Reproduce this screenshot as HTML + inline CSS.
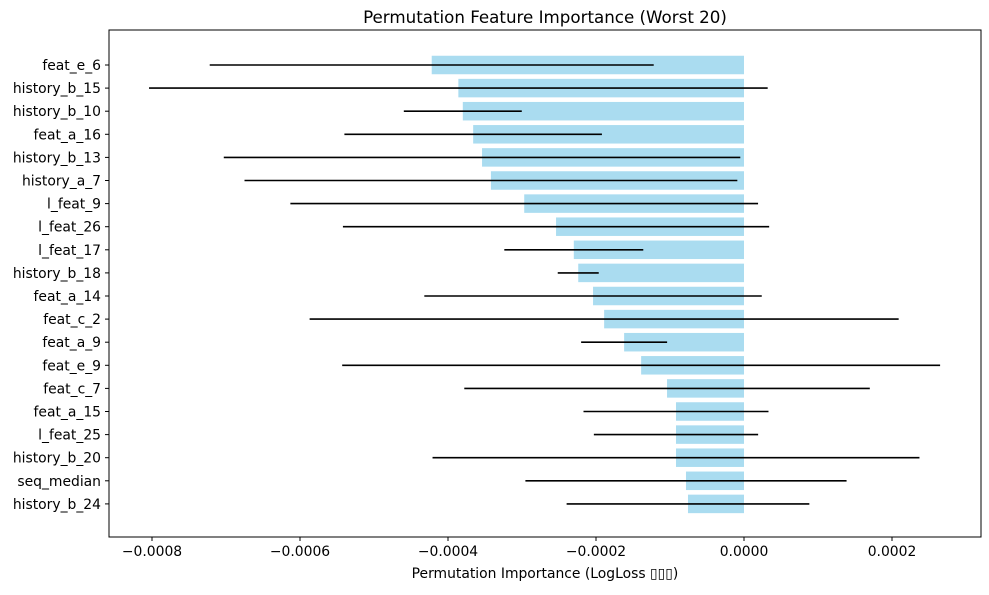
<!DOCTYPE html>
<html><head><meta charset="utf-8"><style>
body{margin:0;background:#fff}
svg text{font-family:"DejaVu Sans","Liberation Sans",sans-serif;fill:#000}
</style></head><body>
<svg id="chart" width="989" height="590" xmlns="http://www.w3.org/2000/svg"></svg>
<script>
const features=["feat_e_6","history_b_15","history_b_10","feat_a_16","history_b_13","history_a_7","l_feat_9","l_feat_26","l_feat_17","history_b_18","feat_a_14","feat_c_2","feat_a_9","feat_e_9","feat_c_7","feat_a_15","l_feat_25","history_b_20","seq_median","history_b_24"];
const importances=[-0.000422,-0.000386,-0.00038,-0.000366,-0.000354,-0.000342,-0.000297,-0.000254,-0.00023,-0.000224,-0.000204,-0.000189,-0.000162,-0.000139,-0.000104,-0.0000919,-0.0000919,-0.0000919,-0.0000784,-0.0000757];
const errors=[0.0003,0.000418,0.0000797,0.000174,0.000349,0.000333,0.000316,0.000288,0.0000939,0.0000277,0.000228,0.000398,0.0000581,0.000404,0.000274,0.000125,0.000111,0.000329,0.000217,0.000164];
const xTicks=[-0.0008,-0.0006,-0.0004,-0.0002,0,0.0002];
const xTickLabels=["−0.0008","−0.0006","−0.0004","−0.0002","0.0000","0.0002"];

const svg=document.getElementById('chart');
const NS='http://www.w3.org/2000/svg';
const L=109,R=981,T=30,B=537;
const xs=v=>744+v*740000;
const ys=i=>65+i*23.1;
function mk(tag,attrs,txt){const e=document.createElementNS(NS,tag);for(const k in attrs)e.setAttribute(k,attrs[k]);if(txt!==undefined)e.textContent=txt;svg.appendChild(e);return e;}

features.forEach((f,i)=>{
  const v=importances[i],y=ys(i);
  const b=mk('rect',{x:Math.min(xs(v),xs(0)),y:y-9.25,width:Math.abs(xs(v)-xs(0)),height:18.5,fill:'#aadcf0'});
  
  
});
features.forEach((f,i)=>{
  const v=importances[i],e=errors[i],y=ys(i);
  const l=mk('line',{x1:xs(v-e),x2:xs(v+e),y1:y,y2:y,stroke:'#000','stroke-width':1.6});
  
  
  const tk=mk('line',{x1:L-4,x2:L,y1:y,y2:y,stroke:'#000','stroke-width':1});
  
  
  const t=mk('text',{x:L-8,y:y+5,'text-anchor':'end','font-size':13.9},f);
  
  
});
xTicks.forEach((v,i)=>{
  const x=xs(v);
  const tk=mk('line',{x1:x,x2:x,y1:B,y2:B+4,stroke:'#000','stroke-width':1});
  
  
  const t=mk('text',{x:x,y:B+19,'text-anchor':'middle','font-size':13.9},xTickLabels[i]);
  
  
});
const frame=mk('rect',{x:L,y:T,width:R-L,height:B-T,fill:'none',stroke:'#000','stroke-width':1});


const title=mk('text',{x:(L+R)/2,y:23,'text-anchor':'middle','font-size':16.7},'Permutation Feature Importance (Worst 20)');


const xl=mk('text',{x:(L+R)/2,y:578,'text-anchor':'middle','font-size':13.9},'Permutation Importance (LogLoss ▯▯▯)');


</script>
</body></html>
